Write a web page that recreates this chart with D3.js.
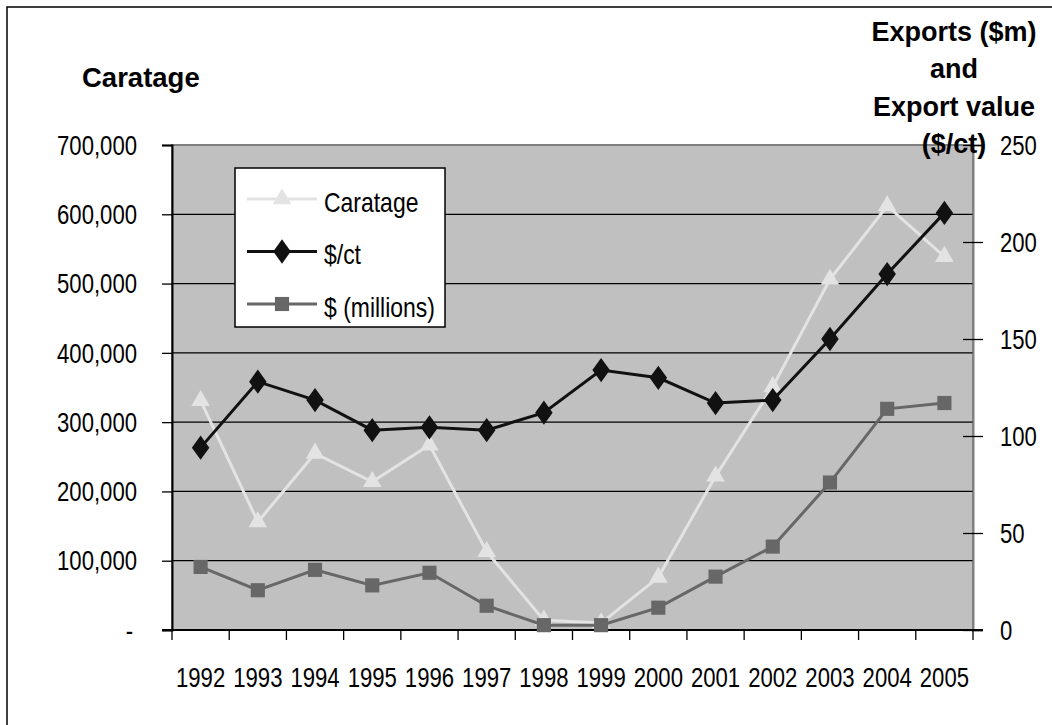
<!DOCTYPE html>
<html lang="en">
<head>
<meta charset="utf-8">
<title>Caratage and exports</title>
<script src="https://cdnjs.cloudflare.com/ajax/libs/d3/7.8.5/d3.min.js"></script>
<style>
    body { margin: 0; background: #fff; }
    svg text { font-family: "Liberation Sans", Arial, sans-serif; fill: #000; }
    .title { font-weight: bold; }
</style>
</head>
<body>
<div id="chart"></div>
<script>
// data
const years = ["1992","1993","1994","1995","1996","1997","1998","1999","2000","2001","2002","2003","2004","2005"];
const caratage = [331000, 156000, 255000, 214000, 267000, 113000, 14000, 10000, 76000, 222000, 351000, 506000, 612000, 539000];
const perCarat = [94, 128, 118.5, 103, 104.5, 103, 112, 134, 130, 117, 118.5, 150, 183.5, 215];
const millions = [32.5, 20.5, 31, 23, 29.5, 12.5, 2.5, 2.5, 11.5, 27.5, 43, 76, 114, 117];
const leftTicks = [0, 100000, 200000, 300000, 400000, 500000, 600000, 700000];
const rightTicks = [0, 50, 100, 150, 200, 250];

const width = 1052, height = 725;
const plot = {left: 172, right: 973, top: 145, bottom: 630};

// squeeze text horizontally, no narrow font installed
function narrow(sel) {
    sel.each(function() {
        const t = d3.select(this);
        const tx = +t.attr("x") || 0, ty = +t.attr("y") || 0;
        t.attr("x", 0).attr("y", 0)
            .attr("transform", "translate(" + tx + "," + ty + ") scale(0.82,1)");
    });
}

const svg = d3.select("#chart").append("svg")
    .attr("width", width)
    .attr("height", height);

// outer frame (only left/top visible in the picture)
svg.append("rect")
    .attr("x", 7).attr("y", 7)
    .attr("width", 1060).attr("height", 740)
    .attr("fill", "none").attr("stroke", "#000").attr("stroke-width", 1.5);

const x = d3.scaleBand().domain(years).range([plot.left, plot.right]);
const yL = d3.scaleLinear().domain([0, 700000]).range([plot.bottom, plot.top]);
const yR = d3.scaleLinear().domain([0, 250]).range([plot.bottom, plot.top]);
const cx = d => x(d) + x.bandwidth() / 2;

// plot background
svg.append("rect")
    .attr("x", plot.left).attr("y", plot.top)
    .attr("width", plot.right - plot.left).attr("height", plot.bottom - plot.top)
    .attr("fill", "#c0c0c0").attr("stroke", "#808080").attr("stroke-width", 2);

// gridlines
svg.append("g").selectAll("line")
    .data(leftTicks.slice(1, -1))
    .enter().append("line")
    .attr("x1", plot.left).attr("x2", plot.right)
    .attr("y1", d => yL(d)).attr("y2", d => yL(d))
    .attr("stroke", "#000").attr("stroke-width", 1.3);

// left axis
const leftAxis = svg.append("g")
    .attr("transform", "translate(" + plot.left + ",0)")
    .call(d3.axisLeft(yL).tickValues(leftTicks).tickSize(10).tickPadding(25)
        .tickFormat(d => d === 0 ? "-" : d3.format(",")(d)));
leftAxis.select(".domain").attr("stroke", "#000").attr("stroke-width", 2);
leftAxis.selectAll("line").attr("stroke", "#000").attr("stroke-width", 1.3);
leftAxis.selectAll("text").style("font-size", "27px").attr("dy", "0.34em");
leftAxis.selectAll("text").filter(d => d === 0).attr("x", -39);
narrow(leftAxis.selectAll("text"));

// right axis
const rightAxis = svg.append("g")
    .attr("transform", "translate(" + plot.right + ",0)")
    .call(d3.axisRight(yR).tickValues(rightTicks).tickSize(10).tickPadding(17));
rightAxis.select(".domain").attr("stroke", "#808080").attr("stroke-width", 2);
rightAxis.selectAll("line").attr("x1", -10).attr("x2", 10).attr("stroke", "#000").attr("stroke-width", 1.3);
rightAxis.selectAll("text").style("font-size", "27px").attr("dy", "0.34em");
narrow(rightAxis.selectAll("text"));

// bottom axis: ticks between categories, labels centred
svg.append("line")
    .attr("x1", plot.left - 10).attr("x2", plot.right + 10)
    .attr("y1", plot.bottom).attr("y2", plot.bottom)
    .attr("stroke", "#000").attr("stroke-width", 2);
svg.append("g").selectAll("line")
    .data(years.concat(["end"]))
    .enter().append("line")
    .attr("x1", d => d === "end" ? plot.right : x(d))
    .attr("x2", d => d === "end" ? plot.right : x(d))
    .attr("y1", plot.bottom).attr("y2", plot.bottom + 10)
    .attr("stroke", "#000").attr("stroke-width", 1.3);
const yearLabels = svg.append("g").selectAll("text")
    .data(years)
    .enter().append("text")
    .attr("x", d => cx(d))
    .attr("y", 687)
    .attr("text-anchor", "middle")
    .style("font-size", "27px")
    .text(d => d);
narrow(yearLabels);

// series
const series = [
    {name: "Caratage", values: caratage, scale: yL, color: "#e3e3e3", marker: d3.symbolTriangle, size: 150},
    {name: "$/ct", values: perCarat, scale: yR, color: "#111111", marker: d3.symbolDiamond, size: 170},
    {name: "$ (millions)", values: millions, scale: yR, color: "#676767", marker: d3.symbolSquare, size: 200}
];

series.forEach(s => {
    const line = d3.line()
        .x((d, i) => cx(years[i]))
        .y(d => s.scale(d));
    svg.append("path")
        .datum(s.values)
        .attr("d", line)
        .attr("fill", "none")
        .attr("stroke", s.color)
        .attr("stroke-width", 3);
    svg.append("g").selectAll("path")
        .data(s.values)
        .enter().append("path")
        .attr("transform", (d, i) => "translate(" + cx(years[i]) + "," + s.scale(d) + ")" + (s.marker === d3.symbolDiamond ? " scale(1.25,1)" : ""))
        .attr("d", d3.symbol().type(s.marker).size(s.size))
        .attr("fill", s.color);
});

// legend
const legend = svg.append("g");
legend.append("rect")
    .attr("x", 235).attr("y", 168)
    .attr("width", 210).attr("height", 159)
    .attr("fill", "#fff").attr("stroke", "#000").attr("stroke-width", 1.5);
series.forEach((s, i) => {
    const ly = 199 + i * 52.5;
    legend.append("line")
        .attr("x1", 247).attr("x2", 317)
        .attr("y1", ly).attr("y2", ly)
        .attr("stroke", s.color).attr("stroke-width", 3);
    legend.append("path")
        .attr("transform", "translate(282," + ly + ")" + (s.marker === d3.symbolDiamond ? " scale(1.25,1)" : ""))
        .attr("d", d3.symbol().type(s.marker).size(s.size))
        .attr("fill", s.color);
    const lt = legend.append("text")
        .attr("x", 324).attr("y", ly + 7)
        .attr("dy", "0.2em")
        .style("font-size", "28px")
        .text(s.name);
    narrow(lt);
});

// axis titles
svg.append("text")
    .attr("class", "title")
    .attr("x", 82).attr("y", 87)
    .style("font-size", "27.5px")
    .text("Caratage");

const rightTitle = ["Exports ($m)", "and", "Export value", "($/ct)"];
svg.append("g").selectAll("text")
    .data(rightTitle)
    .enter().append("text")
    .attr("class", "title")
    .attr("x", 954)
    .attr("y", (d, i) => 41 + i * 37.3)
    .attr("text-anchor", "middle")
    .style("font-size", "27px")
    .text(d => d);
</script>
</body>
</html>
